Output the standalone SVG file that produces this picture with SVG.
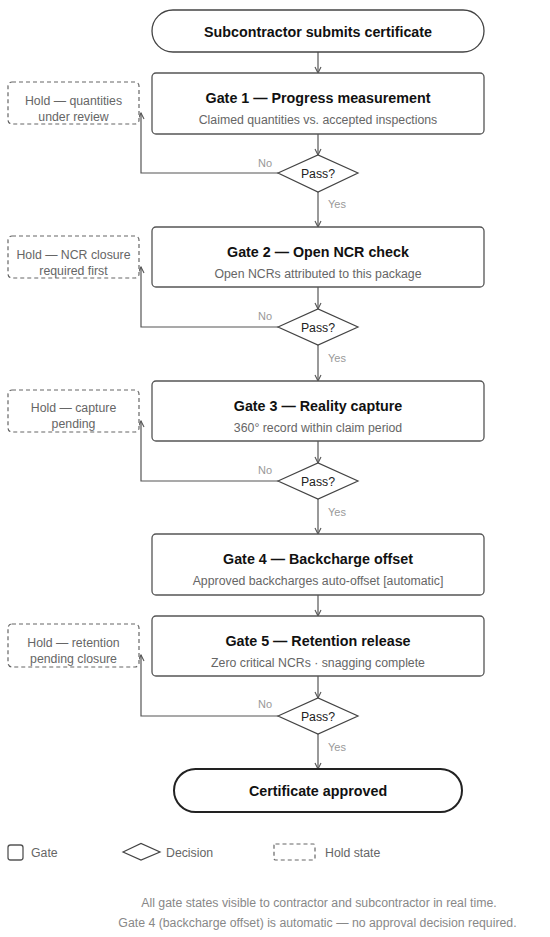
<svg xmlns="http://www.w3.org/2000/svg" width="550" height="937" viewBox="0 0 550 937">
<style>
.bg{fill:#ffffff}
.term{fill:#fff;stroke:#444;stroke-width:1.3}
.termEnd{fill:#fff;stroke:#222;stroke-width:2}
.gate{fill:#fff;stroke:#555;stroke-width:1.3}
.dec{fill:#fff;stroke:#444;stroke-width:1.2}
.hold{fill:#fff;stroke:#666;stroke-width:1.2;stroke-dasharray:4 3}
.conn{fill:none;stroke:#555;stroke-width:1.2}
text{font-family:"Liberation Sans",Arial,sans-serif}
.title{font-size:14.3px;font-weight:bold;fill:#111;text-anchor:middle}
.sub{font-size:12.3px;fill:#666;text-anchor:middle}
.holdt{font-size:12.3px;fill:#666;text-anchor:middle}
.pass{font-size:12.3px;fill:#222;text-anchor:middle}
.lbl{font-size:11px;fill:#999}
.leg{font-size:12.3px;fill:#666}
.foot{font-size:12.3px;fill:#888;text-anchor:middle}
</style>
<defs>
<marker id="arr" viewBox="0 0 8 8" refX="7" refY="4" markerWidth="8" markerHeight="8" markerUnits="userSpaceOnUse" orient="auto">
<path d="M1,1 L7,4 L1,7" fill="none" stroke="#555" stroke-width="1.1"/>
</marker>
</defs>
<rect class="bg" x="0" y="0" width="550" height="937"/>

<g id="connectors">
<line class="conn" x1="318" y1="52" x2="318" y2="73" marker-end="url(#arr)"/>
<line class="conn" x1="318" y1="134" x2="318" y2="155" marker-end="url(#arr)"/>
<line class="conn" x1="318" y1="192" x2="318" y2="227" marker-end="url(#arr)"/>
<polyline class="conn" points="278,173 141,173 141,113" marker-end="url(#arr)"/>
<text class="lbl" x="272" y="167" text-anchor="end">No</text>
<text class="lbl" x="328" y="208">Yes</text>

<line class="conn" x1="318" y1="287" x2="318" y2="309" marker-end="url(#arr)"/>
<line class="conn" x1="318" y1="345" x2="318" y2="381" marker-end="url(#arr)"/>
<polyline class="conn" points="278,327 141,327 141,267" marker-end="url(#arr)"/>
<text class="lbl" x="272" y="320" text-anchor="end">No</text>
<text class="lbl" x="328" y="362">Yes</text>

<line class="conn" x1="318" y1="441" x2="318" y2="463" marker-end="url(#arr)"/>
<line class="conn" x1="318" y1="499" x2="318" y2="534" marker-end="url(#arr)"/>
<polyline class="conn" points="278,481 141,481 141,421" marker-end="url(#arr)"/>
<text class="lbl" x="272" y="474" text-anchor="end">No</text>
<text class="lbl" x="328" y="516">Yes</text>

<line class="conn" x1="318" y1="595" x2="318" y2="616" marker-end="url(#arr)"/>
<line class="conn" x1="318" y1="676" x2="318" y2="698" marker-end="url(#arr)"/>
<line class="conn" x1="318" y1="734" x2="318" y2="769" marker-end="url(#arr)"/>
<polyline class="conn" points="278,716 141,716 141,655" marker-end="url(#arr)"/>
<text class="lbl" x="272" y="708" text-anchor="end">No</text>
<text class="lbl" x="328" y="751">Yes</text>
</g>

<g id="start">
<rect class="term" x="152" y="10" width="332" height="42" rx="21"/>
<text class="title" x="318" y="36.5">Subcontractor submits certificate</text>
</g>

<g id="gate1">
<rect class="gate" x="152" y="73" width="332" height="61" rx="4"/>
<text class="title" x="318" y="103">Gate 1 — Progress measurement</text>
<text class="sub" x="318" y="124">Claimed quantities vs. accepted inspections</text>
</g>
<g id="decision1">
<polygon class="dec" points="278,173 318,155 358,173 318,192"/>
<text class="pass" x="318" y="177.5">Pass?</text>
</g>
<g id="hold1">
<rect class="hold" x="8" y="82" width="131" height="42" rx="4"/>
<text class="holdt" x="73.5" y="104.5">Hold — quantities</text>
<text class="holdt" x="73.5" y="120.5">under review</text>
</g>

<g id="gate2">
<rect class="gate" x="152" y="227" width="332" height="60" rx="4"/>
<text class="title" x="318" y="257">Gate 2 — Open NCR check</text>
<text class="sub" x="318" y="277.5">Open NCRs attributed to this package</text>
</g>
<g id="decision2">
<polygon class="dec" points="278,327 318,309 358,327 318,345"/>
<text class="pass" x="318" y="331.5">Pass?</text>
</g>
<g id="hold2">
<rect class="hold" x="8" y="236" width="131" height="42" rx="4"/>
<text class="holdt" x="73.5" y="258.5">Hold — NCR closure</text>
<text class="holdt" x="73.5" y="274.5">required first</text>
</g>

<g id="gate3">
<rect class="gate" x="152" y="381" width="332" height="60" rx="4"/>
<text class="title" x="318" y="411">Gate 3 — Reality capture</text>
<text class="sub" x="318" y="431.5">360° record within claim period</text>
</g>
<g id="decision3">
<polygon class="dec" points="278,481 318,463 358,481 318,499"/>
<text class="pass" x="318" y="485.5">Pass?</text>
</g>
<g id="hold3">
<rect class="hold" x="8" y="390" width="131" height="42" rx="4"/>
<text class="holdt" x="73.5" y="411.5">Hold — capture</text>
<text class="holdt" x="73.5" y="428">pending</text>
</g>

<g id="gate4">
<rect class="gate" x="152" y="534" width="332" height="61" rx="4"/>
<text class="title" x="318" y="564">Gate 4 — Backcharge offset</text>
<text class="sub" x="318" y="585">Approved backcharges auto-offset [automatic]</text>
</g>

<g id="gate5">
<rect class="gate" x="152" y="616" width="332" height="60" rx="4"/>
<text class="title" x="318" y="646">Gate 5 — Retention release</text>
<text class="sub" x="318" y="666.5">Zero critical NCRs · snagging complete</text>
</g>
<g id="decision4">
<polygon class="dec" points="278,716 318,698 358,716 318,734"/>
<text class="pass" x="318" y="720.5">Pass?</text>
</g>
<g id="hold4">
<rect class="hold" x="8" y="624" width="131" height="43" rx="4"/>
<text class="holdt" x="73.5" y="646.5">Hold — retention</text>
<text class="holdt" x="73.5" y="663">pending closure</text>
</g>

<g id="end">
<rect class="termEnd" x="174" y="769" width="288" height="43" rx="21.5"/>
<text class="title" x="318" y="796">Certificate approved</text>
</g>

<g id="legend">
<rect class="gate" x="8" y="845" width="15" height="15" rx="2.5"/>
<text class="leg" x="31" y="856.5">Gate</text>
<polygon class="dec" points="123,852 141,843.5 160,852 141,860"/>
<text class="leg" x="166" y="856.5">Decision</text>
<rect class="hold" x="274" y="844" width="41" height="16" rx="1.5"/>
<text class="leg" x="325" y="856.5">Hold state</text>
</g>

<g id="footer">
<text class="foot" x="319" y="907">All gate states visible to contractor and subcontractor in real time.</text>
<text class="foot" x="317.5" y="927">Gate 4 (backcharge offset) is automatic — no approval decision required.</text>
</g>
</svg>
